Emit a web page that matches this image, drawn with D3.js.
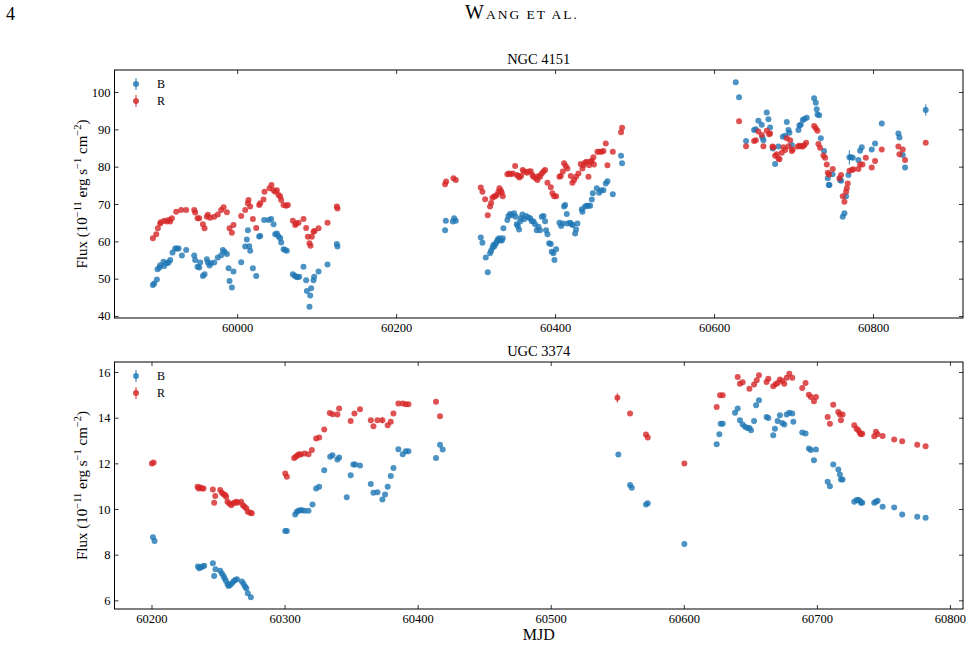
<!DOCTYPE html>
<html><head><meta charset="utf-8">
<script src="https://cdn.jsdelivr.net/npm/d3@7"></script>
<style>
body{margin:0;background:#fff}
svg{display:block}
text{font-family:"Liberation Serif","Times New Roman",serif !important;fill:#000}
</style>
</head><body>
<svg id="chart" width="971" height="646"></svg>
<script>
// ---------- DATA ----------
// [MJD, flux, (optional error)]
const ngcB = [[59894.0,48.3],[59895.6,48.7],[59899.0,49.8],[59899.8,52.5],[59902.4,53.0],[59903.2,53.6],[59907.4,54.5],[59908.2,53.4],[59911.6,54.1],[59913.7,54.3],[59915.8,55.0],[59918.7,57.0],[59922.1,58.1],[59924.2,58.1],[59926.3,58.1],[59930.5,56.2],[59935.9,57.7],[59946.0,56.2],[59947.2,55.0],[59950.2,53.2],[59952.3,53.0],[59953.5,54.3],[59956.9,50.7],[59959.0,51.2],[59961.9,55.2],[59963.2,54.3],[59965.3,53.5],[59966.9,54.1],[59971.1,54.3],[59975.7,55.7],[59979.9,56.3],[59982.0,57.7],[59984.1,57.2],[59987.1,56.6],[59989.2,52.8],[59990.4,49.4],[59993.4,47.6],[59995.4,51.9],[60005.1,54.4],[60010.1,58.6],[60012.2,60.5],[60013.5,63.0],[60015.2,58.7],[60016.4,57.5],[60019.8,52.8],[60024.0,50.7],[60027.7,61.3],[60029.0,61.4],[60034.0,65.7],[60039.5,65.7],[60042.8,66.0],[60045.8,64.6],[60047.9,61.9],[60050.0,62.1],[60052.1,61.3],[60054.2,60.8],[60055.4,59.7],[60058.4,57.9],[60060.4,57.7],[60062.5,57.5],[60070.1,51.2],[60072.2,50.8],[60074.3,50.5],[60076.0,50.4],[60078.1,50.5],[60083.5,53.2],[60086.8,49.6],[60087.7,46.7],[60091.0,42.5],[60091.9,45.5],[60093.1,47.4],[60096.1,49.6],[60096.9,50.5],[60102.4,51.9],[60113.7,53.8],[60125.4,59.3],[60126.2,58.6],[60261.6,63.0],[60262.5,65.5],[60271.3,65.3],[60273.0,66.2],[60275.1,65.5],[60306.5,61.0],[60308.6,59.6],[60312.8,55.7],[60315.3,51.7],[60318.2,56.8],[60319.5,57.5],[60321.2,58.3],[60322.4,59.0],[60323.7,58.7],[60325.4,59.4],[60326.6,59.9],[60327.9,60.5],[60329.6,60.8],[60330.8,60.3],[60332.9,60.2],[60334.2,60.8],[60335.0,63.5],[60340.0,65.7],[60341.3,66.8],[60343.4,67.3],[60345.5,67.0],[60348.4,67.5],[60350.5,66.6],[60351.8,64.6],[60353.0,64.1],[60354.7,63.2],[60356.0,65.3],[60357.2,66.2],[60358.9,67.2],[60361.0,65.9],[60363.5,66.8],[60366.5,66.4],[60368.6,66.2],[60370.7,65.4],[60372.8,65.3],[60374.9,64.6],[60376.9,63.0],[60379.1,63.9],[60381.1,63.0],[60383.3,66.6],[60385.4,66.8],[60387.4,65.4],[60388.7,63.0],[60390.4,61.9],[60392.5,59.5],[60394.6,59.3],[60395.8,57.2],[60397.9,56.8],[60399.2,55.0],[60401.3,57.9],[60405.5,65.0],[60407.6,64.1],[60409.7,64.8],[60411.3,69.3],[60412.6,69.7],[60414.7,67.3],[60415.5,64.8],[60418.9,65.0],[60421.0,64.6],[60422.2,64.4],[60425.2,62.1],[60426.4,63.2],[60428.1,64.8],[60433.6,68.6],[60434.4,67.9],[60437.8,69.3],[60439.9,69.5],[60442.0,69.5],[60444.1,69.5],[60446.2,71.2],[60447.4,72.9],[60452.4,74.2],[60455.4,73.0],[60457.9,73.7],[60460.8,73.7],[60463.8,75.5],[60465.9,76.1],[60472.6,72.6],[60483.0,82.9],[60484.3,80.9],[60627.3,102.6],[60631.5,98.6],[60640.3,86.9],[60650.4,89.8],[60652.5,90.0],[60655.8,92.3],[60660.0,91.2],[60660.9,87.8],[60662.1,87.1],[60666.3,94.5],[60668.4,92.7],[60670.5,90.5],[60673.9,84.9],[60676.8,80.7],[60681.0,85.4],[60686.5,88.0],[60689.4,88.3],[60691.5,92.0],[60693.6,89.8],[60694.8,89.1],[60697.8,85.8],[60706.2,89.8],[60707.4,91.0],[60709.1,91.2],[60711.6,92.5],[60713.7,92.8],[60716.6,93.1],[60725.9,98.3],[60728.0,97.1],[60729.2,95.4],[60730.1,94.0],[60732.2,93.8],[60734.3,87.6],[60738.4,84.2],[60743.1,76.9],[60744.3,75.1],[60745.2,75.1],[60749.0,78.0],[60758.6,76.4],[60759.8,76.2],[60761.9,66.6],[60764.0,67.5],[60766.1,72.1],[60769.1,77.8],[60770.3,82.5,1.9],[60772.4,82.5],[60774.5,82.4],[60781.6,81.8],[60783.7,84.3],[60785.8,85.2],[60798.4,84.6],[60802.6,86.2],[60811.0,91.6],[60831.9,88.9],[60833.2,87.8],[60837.4,83.1],[60840.3,79.8],[60866.3,95.2,1.5]];

const ngcR = [[59894.0,60.8],[59898.2,61.9],[59900.3,63.5],[59903.2,64.8],[59904.0,65.1],[59908.2,65.5],[59911.6,65.3],[59913.7,65.7],[59915.8,65.3],[59917.9,66.2],[59923.3,67.9],[59929.6,68.4],[59935.9,68.4],[59946.0,68.4],[59947.2,67.7],[59950.2,66.2],[59952.3,66.2],[59956.9,64.6],[59959.0,63.5],[59961.9,66.6],[59963.2,67.1],[59966.1,66.3],[59971.1,66.6],[59975.7,67.2],[59979.9,68.4],[59982.9,69.1],[59987.1,67.8],[59990.4,63.5],[59993.4,62.3],[59995.4,64.4],[60005.1,66.8],[60010.1,68.4],[60013.5,70.2],[60014.3,71.1],[60016.4,69.3],[60019.8,66.0],[60024.0,63.6],[60027.7,69.7],[60029.0,70.2],[60033.2,71.2],[60034.4,73.3],[60040.7,74.2],[60043.2,75.1],[60045.8,73.7],[60047.9,73.3],[60050.0,73.7],[60052.1,72.4],[60054.2,72.0],[60055.4,71.1],[60058.4,69.7],[60061.7,69.5],[60063.8,69.7],[60070.1,65.5],[60073.0,64.4],[60074.3,64.8],[60077.2,65.0],[60083.5,66.0],[60086.8,63.6],[60089.0,61.2],[60091.0,59.5],[60092.3,58.8],[60094.0,61.2],[60096.1,62.6],[60097.3,62.8],[60102.4,63.5],[60113.7,65.0],[60125.4,69.3],[60126.2,68.8],[60261.6,75.3],[60262.9,76.0],[60272.1,76.9],[60275.1,76.4],[60306.5,74.4],[60308.6,73.3],[60312.0,71.3],[60315.3,67.0],[60318.2,69.3],[60319.5,70.3],[60321.2,71.7],[60323.3,72.0],[60324.5,72.1],[60326.6,72.4],[60328.7,73.3],[60330.0,74.2],[60331.7,73.6],[60332.9,73.0],[60334.2,72.1],[60340.0,78.0],[60342.1,78.2],[60344.2,78.0],[60346.8,78.2],[60349.7,80.2],[60351.8,77.8],[60353.9,77.5],[60355.1,77.1],[60357.2,77.5],[60359.3,79.1],[60361.0,78.7],[60364.4,78.4],[60366.5,78.7],[60369.4,78.8],[60371.5,77.8],[60372.8,77.3],[60375.7,76.9],[60377.8,76.4],[60379.1,77.5],[60381.1,77.3],[60383.3,78.2],[60385.4,78.7],[60387.4,79.1],[60390.4,75.7],[60394.6,74.5],[60396.7,72.9],[60398.8,72.1],[60401.3,72.1],[60405.5,77.3],[60407.2,77.5],[60409.7,78.7],[60411.3,80.9],[60413.4,80.2],[60415.5,79.5],[60419.7,77.5],[60421.8,75.7],[60423.9,76.4],[60426.4,77.3],[60429.4,78.2],[60432.3,80.7],[60434.4,79.5],[60435.7,80.4],[60437.8,81.1],[60439.9,81.3],[60442.0,77.3],[60442.8,80.4],[60444.9,81.3],[60446.2,81.6],[60448.2,82.5],[60448.9,80.6],[60453.3,84.0],[60455.8,84.0],[60458.7,84.0],[60460.8,84.2],[60463.8,86.2],[60465.9,80.4],[60472.6,84.0],[60483.0,89.2],[60484.3,90.4],[60631.5,92.2],[60640.3,85.5],[60650.4,86.9],[60652.5,87.1],[60655.8,89.4],[60660.0,88.5],[60662.1,85.5],[60666.3,89.6],[60669.3,88.7],[60670.5,88.9],[60673.5,85.4],[60674.7,85.2],[60676.8,82.9],[60678.9,83.3],[60681.0,82.2],[60682.3,82.0],[60685.2,83.7],[60687.3,85.2],[60689.4,84.5],[60691.5,87.6],[60693.6,85.5],[60695.7,87.1],[60697.8,84.2],[60699.0,84.6],[60705.3,85.4],[60707.4,85.6],[60709.5,85.5],[60711.6,85.4],[60713.7,85.8],[60715.8,86.4],[60725.9,90.9],[60728.0,90.3],[60730.1,89.6],[60731.3,86.1],[60733.4,85.1],[60737.6,83.0],[60739.7,82.4],[60741.8,80.6],[60743.1,78.4],[60744.7,77.9],[60749.3,79.4],[60757.7,76.9],[60759.8,77.8],[60761.9,72.1],[60764.0,70.6],[60766.1,73.3],[60767.0,74.2],[60768.2,75.5],[60770.3,78.9],[60773.3,79.1],[60775.3,79.3],[60781.6,79.4],[60783.7,80.6],[60786.7,80.6],[60790.9,82.4],[60798.4,79.8],[60802.6,81.5],[60811.0,84.6],[60831.9,85.4],[60833.2,83.3],[60837.4,84.6],[60840.3,81.8],[60866.3,86.4]];

const ugcB = [[60201.1,8.76],[60202.3,8.60],[60234.9,7.48],[60235.9,7.40],[60237.1,7.45],[60238.4,7.48],[60239.6,7.51],[60246.1,7.62],[60247.1,7.07],[60248.1,7.36],[60251.6,7.30],[60252.9,7.18],[60254.1,7.07],[60254.9,6.97],[60255.9,6.86],[60257.1,6.72],[60257.9,6.63],[60259.1,6.67],[60260.4,6.75],[60261.6,6.82],[60262.9,6.89],[60264.2,6.92],[60267.9,6.82],[60269.2,6.72],[60270.4,6.60],[60271.2,6.53],[60272.4,6.31],[60274.7,6.13],[60300.5,9.04],[60301.7,9.04],[60308.0,9.76],[60309.2,9.88],[60310.5,9.92],[60311.7,9.95],[60313.0,9.95],[60315.0,9.92],[60318.0,9.92],[60321.0,10.20],[60323.7,10.90],[60326.0,10.97],[60329.8,11.70],[60334.3,12.29],[60336.0,12.36],[60339.7,12.17],[60341.0,12.26],[60346.7,10.51],[60349.7,11.48],[60351.7,11.95],[60353.0,11.95],[60356.7,11.91],[60364.8,11.10],[60366.8,10.71],[60369.8,10.73],[60373.5,10.42],[60375.5,10.64],[60377.5,10.97],[60379.8,11.45],[60381.8,11.80],[60385.5,12.62],[60388.8,12.40],[60391.1,12.53],[60393.1,12.53],[60413.8,12.24],[60416.8,12.82],[60418.8,12.61],[60550.8,12.39],[60559.6,11.05],[60560.9,10.93],[60571.6,10.20],[60572.9,10.25],[60600.4,8.47],[60624.7,12.84],[60626.7,13.28],[60627.7,13.74],[60629.2,13.74],[60638.5,14.22],[60640.5,14.40],[60642.2,13.89],[60644.2,13.70],[60646.0,13.60],[60647.7,13.55],[60649.3,13.55],[60650.5,13.45],[60652.8,13.86],[60654.3,14.54],[60656.5,14.76],[60662.2,14.03],[60663.5,13.99],[60667.2,13.23],[60668.5,13.52],[60670.5,13.86],[60672.2,14.11],[60674.0,13.77],[60675.5,13.70],[60677.3,14.14],[60679.3,14.22],[60681.5,14.18],[60682.3,13.82],[60689.0,13.35],[60691.5,13.31],[60694.0,12.65],[60695.5,12.58],[60697.8,12.14],[60699.3,12.61],[60708.1,11.19],[60709.8,11.00],[60712.3,11.95],[60716.1,11.73],[60717.3,11.51],[60718.1,11.29],[60719.3,11.29],[60728.1,10.32],[60729.8,10.39],[60731.1,10.39],[60732.3,10.36],[60733.1,10.27],[60734.1,10.27],[60743.1,10.27],[60744.4,10.32],[60745.6,10.36],[60749.4,10.10],[60758.1,10.07],[60764.1,9.76],[60775.4,9.66],[60781.7,9.62]];

const ugcR = [[60200.3,11.99],[60201.6,12.04],[60234.6,10.97],[60235.4,10.90],[60236.6,10.94],[60237.9,10.90],[60239.1,10.90],[60246.1,10.85],[60247.1,10.27],[60247.9,10.57],[60251.6,10.83],[60252.9,10.71],[60254.1,10.65],[60255.4,10.61],[60256.1,10.54],[60257.1,10.32],[60258.4,10.24],[60259.9,10.17],[60261.1,10.24],[60262.4,10.27],[60263.7,10.32],[60264.7,10.27],[60267.4,10.32],[60268.7,10.17],[60269.9,10.10],[60271.2,10.03],[60272.4,9.88],[60274.2,9.84],[60275.4,9.81],[60300.5,11.56],[60301.7,11.41],[60307.2,12.24],[60308.5,12.29],[60309.7,12.36],[60311.0,12.40],[60312.2,12.39],[60315.0,12.43],[60318.0,12.40],[60320.5,12.58],[60323.7,13.09],[60326.0,13.13],[60329.8,13.48],[60334.0,14.21],[60336.0,14.15],[60339.7,14.14],[60341.0,14.40],[60349.7,13.86],[60352.5,14.18],[60356.7,14.37],[60364.8,13.89],[60366.8,13.63],[60369.8,13.89],[60373.5,13.89,0.13],[60377.5,13.67],[60379.8,13.82],[60381.8,14.18],[60385.5,14.62],[60388.8,14.62],[60391.1,14.59],[60393.1,14.59],[60413.8,14.70],[60416.8,14.06],[60550.1,14.87,0.2],[60559.6,14.18],[60571.6,13.26],[60572.9,13.13],[60600.4,11.99],[60624.7,14.47],[60627.2,14.98],[60629.2,14.98],[60640.5,15.78],[60642.2,15.49],[60644.2,15.55],[60649.3,15.27],[60652.8,15.45],[60654.8,15.64],[60656.5,15.86],[60662.2,15.56],[60663.5,15.71],[60667.2,15.38],[60669.0,15.46],[60670.5,15.52],[60672.2,15.67],[60674.0,15.61],[60675.5,15.49],[60677.3,15.75],[60679.3,15.93],[60681.5,15.75],[60689.0,15.30],[60691.5,15.52],[60694.0,15.00],[60695.5,14.91],[60697.8,14.72],[60699.3,14.91],[60708.1,14.03],[60709.8,13.74],[60712.3,14.57],[60716.1,14.25],[60717.3,14.14],[60718.1,13.89],[60719.3,14.14],[60728.1,13.67],[60729.8,13.52],[60731.1,13.45],[60732.3,13.33],[60733.1,13.28],[60734.1,13.30],[60743.1,13.19],[60744.4,13.38],[60745.6,13.28],[60749.4,13.20],[60758.1,13.04],[60764.1,12.97],[60775.4,12.82],[60781.7,12.75]];

const ngcXTicks = [60000, 60200, 60400, 60600, 60800];
const ngcYTicks = [40, 50, 60, 70, 80, 90, 100];
const ugcXTicks = [60200, 60300, 60400, 60500, 60600, 60700, 60800];
const ugcYTicks = [6, 8, 10, 12, 14, 16];
const bands = ["B", "R"];
const titles = ["NGC 4151", "UGC 3374"];

// ---------- DRAW ----------
const svg = d3.select("#chart");
const colors = {B: "#1f77b4", R: "#d62728"};
const L = 114.5, R = 963;
const SERIF = '"Liberation Serif","Times New Roman",serif';

// header
svg.append("text").attr("x", 6).attr("y", 20).attr("font-size", 18).text("4");
const hdr = svg.append("text").attr("x", 522).attr("y", 19).attr("text-anchor", "middle")
  .attr("letter-spacing", 2);
hdr.append("tspan").attr("font-size", 20).text("W");
hdr.append("tspan").attr("font-size", 13.5).text("ANG ET AL.");

function panel(cfg) {
  const g = svg.append("g");
  const x = d3.scaleLinear().domain(cfg.xdom).range([L, R]);
  const y = d3.scaleLinear().domain(cfg.ydom).range([cfg.bottom, cfg.top]);

  const fmtAxis = sel => {
    sel.attr("font-family", SERIF).attr("font-size", 12.5);
    sel.select(".domain").remove();
    sel.selectAll("line").attr("stroke", "#000").attr("stroke-width", 0.8);
    sel.selectAll("text").style("font-family", SERIF).style("font-size", "12.5px").attr("fill", "#000");
  };
  g.append("g").attr("transform", `translate(0,${cfg.bottom})`)
    .call(d3.axisBottom(x).tickValues(cfg.xticks).tickFormat(d3.format("d")).tickSize(-4).tickPadding(5)).call(fmtAxis);
  g.append("g").attr("transform", `translate(0,${cfg.top})`)
    .call(d3.axisTop(x).tickValues(cfg.xticks).tickFormat("").tickSize(-4)).call(fmtAxis);
  g.append("g").attr("transform", `translate(${L},0)`)
    .call(d3.axisLeft(y).tickValues(cfg.yticks).tickFormat(d3.format("d")).tickSize(-4).tickPadding(4)).call(fmtAxis);
  g.append("g").attr("transform", `translate(${R},0)`)
    .call(d3.axisRight(y).tickValues(cfg.yticks).tickFormat("").tickSize(-4)).call(fmtAxis);

  g.append("rect").attr("x", L).attr("y", cfg.top).attr("width", R - L).attr("height", cfg.bottom - cfg.top)
    .attr("fill", "none").attr("stroke", "#000").attr("stroke-width", 1);

  cfg.series.forEach((s, i) => {
    const col = colors[bands[i]];
    const sg = g.append("g");
    sg.selectAll("line.err").data(s.filter(d => d[2])).join("line")
      .attr("x1", d => x(d[0])).attr("x2", d => x(d[0]))
      .attr("y1", d => y(d[1] - d[2])).attr("y2", d => y(d[1] + d[2]))
      .attr("stroke", col).attr("stroke-width", 1.2).attr("opacity", 0.8);
    sg.selectAll("circle").data(s).join("circle")
      .attr("cx", d => x(d[0])).attr("cy", d => y(d[1])).attr("r", 3)
      .attr("fill", col).attr("fill-opacity", 0.8);
  });

  // legend
  bands.forEach((b, i) => {
    const ly = cfg.top + 14 + i * 17;
    svg.append("line").attr("x1", 136).attr("x2", 136).attr("y1", ly - 6).attr("y2", ly + 6)
      .attr("stroke", colors[b]).attr("stroke-width", 1.2).attr("opacity", 0.8);
    svg.append("circle").attr("cx", 136).attr("cy", ly).attr("r", 3).attr("fill", colors[b]).attr("fill-opacity", 0.8);
    svg.append("text").attr("x", 157).attr("y", ly + 4).attr("font-size", 12).text(b);
  });

  // title
  svg.append("text").attr("x", (L + R) / 2).attr("y", cfg.top - 6).attr("text-anchor", "middle")
    .attr("font-size", 14.5).text(cfg.title);

  // y label
  const cy = (cfg.top + cfg.bottom) / 2;
  const yl = svg.append("text").attr("transform", `translate(87,${cy}) rotate(-90)`)
    .attr("text-anchor", "middle").attr("font-size", 15);
  yl.append("tspan").text("Flux (10");
  yl.append("tspan").attr("font-size", 10.5).attr("dy", -6).text("−11");
  yl.append("tspan").attr("dy", 6).text(" erg s");
  yl.append("tspan").attr("font-size", 10.5).attr("dy", -6).text("−1");
  yl.append("tspan").attr("dy", 6).text(" cm");
  yl.append("tspan").attr("font-size", 10.5).attr("dy", -6).text("−2");
  yl.append("tspan").attr("dy", 6).text(")");
}

panel({title: titles[0], top: 70, bottom: 318, xdom: [59845.7, 60913.2], ydom: [39.46, 105.9],
  xticks: ngcXTicks, yticks: ngcYTicks, series: [ngcB, ngcR]});
panel({title: titles[1], top: 362, bottom: 609, xdom: [60172.2, 60809.8], ydom: [5.62, 16.44],
  xticks: ugcXTicks, yticks: ugcYTicks, series: [ugcB, ugcR]});

svg.append("text").attr("x", (L + R) / 2).attr("y", 640).attr("text-anchor", "middle")
  .attr("font-size", 16).text("MJD");
</script>
</body></html>
